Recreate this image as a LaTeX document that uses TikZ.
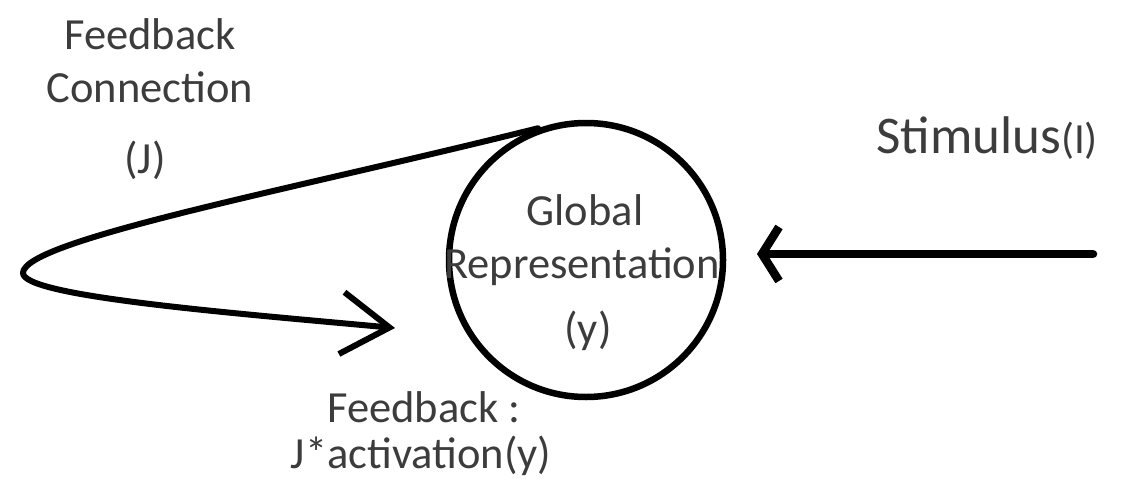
\documentclass[tikz,border=0pt]{standalone}
\usepackage{fontspec}
\setmainfont{Carlito}
\usetikzlibrary{arrows.meta}
\definecolor{labelgray}{RGB}{60,60,60}
\tikzset{
  lbl/.style={text=labelgray, font=\fontsize{44.5}{52}\selectfont, anchor=base, inner sep=0pt},
  bigbarb/.style={-{Straight Barb[length=48pt,width=62pt]}},
  bluntbarb/.style={-{Straight Barb[length=17pt,width=54pt]}},
}
\begin{document}
\begin{tikzpicture}[x=1pt,y=-1pt,line cap=round,line join=round]
\useasboundingbox (0,0) rectangle (1126,487);
% the representation
\node[draw, circle, line width=6.5pt, minimum size=274pt, inner sep=0pt] (glob) at (586,260) {};
\node[lbl] (globa) at (585,225) {Global};
\node[lbl] (globb) at (582,278) {Representation};
\node[lbl] (globc) at (588,343) {(y)};
% labels
\node[lbl] (fba) at (150,49) {Feedback};
\node[lbl] (fbb) at (150,102) {Connection};
\node[lbl] (fbc) at (145,173) {(J)};
\node[lbl, anchor=base west, font=\fontsize{53}{60}\selectfont] (stim) at (876,153) {Stimulus\fontsize{43}{50}\selectfont(I)};
\node[lbl] (outa) at (424,422) {Feedback :};
\node[lbl] (outb) at (421,468) {J*activation(y)};
% connectors
\coordinate (stimend) at (1093,254);
\coordinate (stimtip) at (757,254);
\coordinate (fbturn) at (23,273);
\coordinate (fbtip) at (395,328);
\draw[bluntbarb, line width=8.5pt] (stimend) -- (stimtip);
\draw[bigbarb, line width=6pt] (glob.110) .. controls (300,188) and (23,240) .. (fbturn)
   .. controls (23,296) and (220,312) .. (fbtip);
\end{tikzpicture}
\end{document}
